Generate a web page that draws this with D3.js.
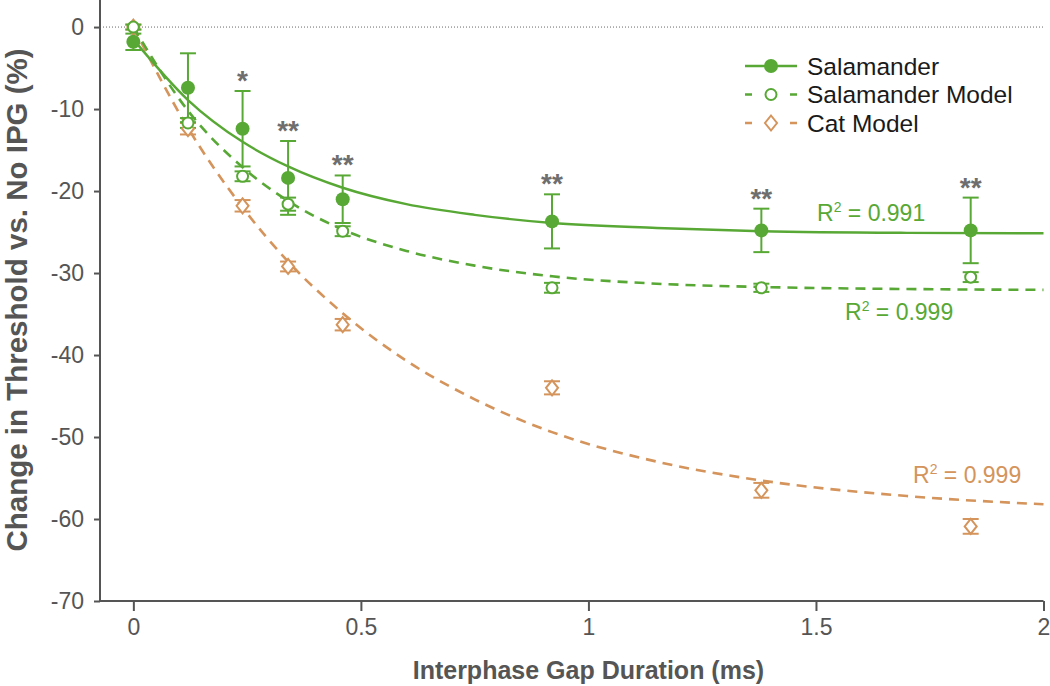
<!DOCTYPE html>
<meta charset="utf-8">
<style>
  body { margin: 0; background: white; }
  svg { font-family: "Liberation Sans", Arial, sans-serif; }
</style>
<body>
<div id="chart"></div>
<script src="https://d3js.org/d3.v7.min.js"></script>
<script>
// measured points (IPG in ms, change in threshold in %)
const ipg = [0, 0.12, 0.24, 0.34, 0.46, 0.92, 1.38, 1.84];
const salamander = [-1.8, -7.4, -12.4, -18.4, -21.0, -23.7, -24.8, -24.8];
const salamanderErr = [1.0, 4.2, 4.6, 4.5, 2.9, 3.3, 2.65, 4.0];
const salModel = [0, -11.7, -18.2, -21.6, -24.9, -31.8, -31.8, -30.5];
const salModelErr = [0.3, 0.6, 0.6, 0.8, 0.6, 0.6, 0.5, 0.6];
const catModel = [0, -12.4, -21.8, -29.2, -36.3, -44.0, -56.5, -60.9];
const catModelErr = [0.3, 0.7, 0.7, 0.6, 0.7, 0.8, 0.9, 0.9];
const stars = ["", "", "*", "**", "**", "**", "**", "**"];

// fitted curves
const fitX = [0, 0.12, 0.24, 0.34, 0.46, 0.6, 0.75, 0.92, 1.15, 1.38, 1.7, 2.0];
const salFit = [-1.5, -8.9, -14.0, -17.0, -19.6, -21.6, -22.9, -23.9, -24.5, -24.9, -25.1, -25.15];
const salModelFit = [0, -10.2, -17.1, -21.2, -24.7, -27.3, -29.1, -30.4, -31.3, -31.7, -31.95, -32.05];
const catFit = [0, -12.3, -22.0, -28.6, -34.9, -40.7, -45.4, -49.4, -53.0, -55.3, -57.2, -58.2];

const xTicks = [0, 0.5, 1, 1.5, 2];
const yTicks = [0, -10, -20, -30, -40, -50, -60, -70];

const green = "#58a835", orange = "#d4945b", axisGrey = "#555", starGrey = "#6e6e6e";
const width = 1050, height = 686;

const svg = d3.select("#chart").append("svg")
    .attr("width", width).attr("height", height);

const x = d3.scaleLinear().domain([-0.0733, 2]).range([100, 1043.5]);
const y = d3.scaleLinear().domain([3.3, -70]).range([0, 601]);

// zero reference line
svg.append("line")
    .attr("x1", x.range()[0]).attr("x2", x(2))
    .attr("y1", y(0)).attr("y2", y(0))
    .attr("stroke", "#666").attr("stroke-width", 1)
    .attr("stroke-dasharray", "1,2");

// axes
const xAxis = svg.append("g")
    .attr("transform", `translate(0,${y(-70)})`)
    .call(d3.axisBottom(x).tickValues(xTicks).tickSize(10).tickPadding(8)
        .tickFormat(d => d));
const yAxis = svg.append("g")
    .attr("transform", `translate(${x.range()[0]},0)`)
    .call(d3.axisLeft(y).tickValues(yTicks).tickSize(6).tickPadding(10)
        .tickFormat(d => d));
[xAxis, yAxis].forEach(g => {
    g.select(".domain").attr("stroke", axisGrey).attr("stroke-width", 2);
    g.selectAll(".tick line").attr("stroke", axisGrey).attr("stroke-width", 2);
    g.selectAll(".tick text").attr("fill", axisGrey)
        .style("font-size", "23px").style("font-family", "'Liberation Sans', Arial, sans-serif");
});
// domain paths without outer ticks
xAxis.select(".domain").attr("d", `M${x.range()[0]},0H${x(2)}`);
yAxis.select(".domain").attr("d", `M0,${y.range()[0]}V${y(-70)}`);

// axis titles
svg.append("text")
    .attr("x", x(1)).attr("y", 679)
    .attr("text-anchor", "middle")
    .attr("fill", axisGrey).attr("font-weight", "bold").attr("font-size", 25)
    .text("Interphase Gap Duration (ms)");
svg.append("text")
    .attr("transform", "translate(27,300) rotate(-90)")
    .attr("text-anchor", "middle")
    .attr("fill", axisGrey).attr("font-weight", "bold").attr("font-size", 29.5)
    .text("Change in Threshold vs. No IPG (%)");

// fit curves
const fitLine = vals => d3.line()
    .x((d, i) => x(fitX[i]))
    .y((d, i) => y(vals[i]))
    .curve(d3.curveMonotoneX)(vals);

svg.append("path").attr("d", fitLine(catFit))
    .attr("fill", "none").attr("stroke", orange).attr("stroke-width", 2.6)
    .attr("stroke-dasharray", "10,7");
svg.append("path").attr("d", fitLine(salModelFit))
    .attr("fill", "none").attr("stroke", green).attr("stroke-width", 2.6)
    .attr("stroke-dasharray", "10,7");
svg.append("path").attr("d", fitLine(salFit))
    .attr("fill", "none").attr("stroke", green).attr("stroke-width", 2.4);

// error bars
function errorBars(vals, errs, color, cap) {
    const g = svg.append("g").attr("stroke", color).attr("stroke-width", 2);
    ipg.forEach((xv, i) => {
        const top = y(vals[i] + errs[i]), bot = y(vals[i] - errs[i]);
        g.append("line").attr("x1", x(xv)).attr("x2", x(xv)).attr("y1", top).attr("y2", bot);
        g.append("line").attr("x1", x(xv) - cap).attr("x2", x(xv) + cap).attr("y1", top).attr("y2", top);
        g.append("line").attr("x1", x(xv) - cap).attr("x2", x(xv) + cap).attr("y1", bot).attr("y2", bot);
    });
}
errorBars(catModel, catModelErr, orange, 8);
errorBars(salModel, salModelErr, green, 8);
errorBars(salamander, salamanderErr, green, 8);

// markers
const diamond = (cx, cy, w, h) => `M${cx},${cy - h}L${cx + w},${cy}L${cx},${cy + h}L${cx - w},${cy}Z`;

svg.append("g").selectAll("path").data(catModel).join("path")
    .attr("d", (d, i) => diamond(x(ipg[i]), y(d), 6, 7.5))
    .attr("fill", "white").attr("stroke", orange).attr("stroke-width", 2);
svg.append("g").selectAll("circle").data(salModel).join("circle")
    .attr("cx", (d, i) => x(ipg[i])).attr("cy", d => y(d)).attr("r", 5.5)
    .attr("fill", "white").attr("stroke", green).attr("stroke-width", 2);
svg.append("g").selectAll("circle").data(salamander).join("circle")
    .attr("cx", (d, i) => x(ipg[i])).attr("cy", d => y(d)).attr("r", 7)
    .attr("fill", green);

// significance stars
svg.append("g").selectAll("text").data(stars).join("text")
    .attr("x", (d, i) => x(ipg[i]))
    .attr("y", (d, i) => y(salamander[i] + salamanderErr[i]) - 1)
    .attr("text-anchor", "middle")
    .attr("fill", starGrey).attr("font-weight", "bold").attr("font-size", 28)
    .text(d => d);

// R² labels
function r2(xp, yp, color, value) {
    const t = svg.append("text").attr("x", xp).attr("y", yp)
        .attr("fill", color).attr("font-size", 23);
    t.append("tspan").text("R");
    t.append("tspan").attr("font-size", 14).attr("dy", -9).text("2");
    t.append("tspan").attr("dy", 9).text(" = " + value);
}
r2(817, 221, green, "0.991");
r2(845, 320, green, "0.999");
r2(913, 483, orange, "0.999");

// legend
const legendItems = [
    {name: "Salamander", color: green, dash: null, mark: "filled"},
    {name: "Salamander Model", color: green, dash: "7,38", mark: "open"},
    {name: "Cat Model", color: orange, dash: "7,38", mark: "diamond"}
];
const legend = svg.append("g").attr("transform", "translate(745,66)");
legendItems.forEach((d, i) => {
    const g = legend.append("g").attr("transform", `translate(0,${i * 28.5})`);
    g.append("line").attr("x1", 0).attr("x2", 52).attr("y1", 0).attr("y2", 0)
        .attr("stroke", d.color).attr("stroke-width", 2.5)
        .attr("stroke-dasharray", d.dash);
    if (d.mark === "filled") {
        g.append("circle").attr("cx", 26).attr("r", 7).attr("fill", d.color);
    } else if (d.mark === "open") {
        g.append("circle").attr("cx", 26).attr("r", 5.5)
            .attr("fill", "white").attr("stroke", d.color).attr("stroke-width", 2);
    } else {
        g.append("path").attr("d", diamond(26, 0, 6, 7.5))
            .attr("fill", "white").attr("stroke", d.color).attr("stroke-width", 2);
    }
    g.append("text").attr("x", 62).attr("y", 8.5)
        .attr("fill", "#1a1a1a").attr("font-size", 24.5)
        .text(d.name);
});
</script>
</body>
